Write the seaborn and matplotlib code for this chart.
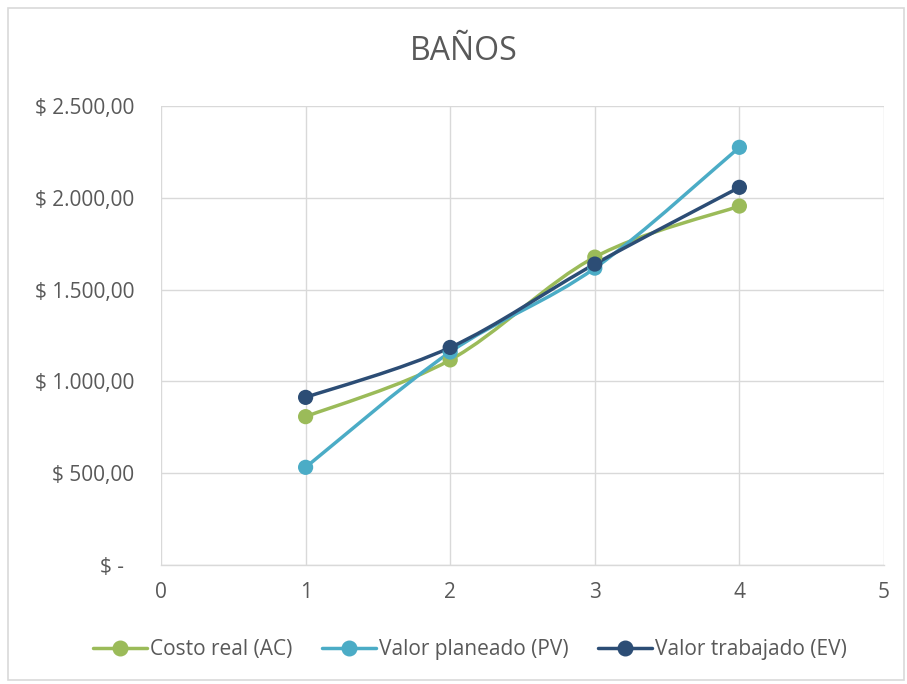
import numpy as np
import pandas as pd
import seaborn as sns
import matplotlib
matplotlib.use("Agg")
import matplotlib.pyplot as plt
from matplotlib.path import Path
from matplotlib.patches import PathPatch, Rectangle
from matplotlib.lines import Line2D
from matplotlib.ticker import FuncFormatter

# Data
periodos = [1, 2, 3, 4]
costo_real = [808, 1117, 1677, 1955]
valor_planeado = [532, 1160, 1617, 2275]
valor_trabajado = [913, 1185, 1639, 2057]

series_names = ["Costo real (AC)", "Valor planeado (PV)", "Valor trabajado (EV)"]
colors = ["#9BBB59", "#4BACC6", "#2C4D75"]

df = pd.DataFrame({
    "Periodo": periodos * 3,
    "Valor": costo_real + valor_planeado + valor_trabajado,
    "Serie": [series_names[0]] * 4 + [series_names[1]] * 4 + [series_names[2]] * 4,
})

sns.set_theme(style="white")
plt.rcParams["font.family"] = ["Open Sans", "DejaVu Sans"]
text_color = "#595959"
grid_color = "#D9D9D9"

fig = plt.figure(figsize=(9.07, 6.84), dpi=100)
ax = fig.add_axes([161 / 907, 1 - 565 / 684, (884 - 161) / 907, (565 - 106) / 684])

# Chart-area border
fig.patches.append(Rectangle((8 / 907, 4 / 684), 896 / 907, 672 / 684,
                             transform=fig.transFigure, fill=False,
                             edgecolor="#D9D9D9", linewidth=1.2))


def smooth_path(xs, ys):
    """Cardinal-spline style Bezier path through the points."""
    pts = np.column_stack([xs, ys]).astype(float)
    n = len(pts)
    verts = [pts[0]]
    codes = [Path.MOVETO]
    for i in range(n - 1):
        p0 = pts[i - 1] if i > 0 else pts[i]
        p1 = pts[i]
        p2 = pts[i + 1]
        p3 = pts[i + 2] if i + 2 < n else pts[i + 1]
        c1 = p1 + (p2 - p0) / 6.0
        c2 = p2 - (p3 - p1) / 6.0
        verts += [c1, c2, p2]
        codes += [Path.CURVE4] * 3
    return Path(verts, codes)


for name, color in zip(series_names, colors):
    sub = df[df["Serie"] == name]
    ax.add_patch(PathPatch(smooth_path(sub["Periodo"], sub["Valor"]),
                           facecolor="none", edgecolor=color, linewidth=2.5,
                           capstyle="round", joinstyle="round", zorder=3))

sns.scatterplot(data=df, x="Periodo", y="Valor", hue="Serie",
                palette=dict(zip(series_names, colors)), s=120,
                edgecolor="none", legend=False, zorder=4, ax=ax)

ax.set_xlim(0, 5)
ax.set_ylim(0, 2500)
ax.set_xticks(range(0, 6))
ax.set_yticks(range(0, 2501, 500))


def money(v, pos):
    if v == 0:
        return "$ -  "
    s = f"{v:,.2f}".replace(",", "X").replace(".", ",").replace("X", ".")
    return f"$ {s}"


ax.yaxis.set_major_formatter(FuncFormatter(money))
ax.grid(True, color=grid_color, linewidth=1.0)
ax.set_axisbelow(True)
for side in ["top", "right", "left"]:
    ax.spines[side].set_visible(False)
ax.spines["bottom"].set_color(grid_color)
ax.spines["bottom"].set_linewidth(1.0)
ax.tick_params(axis="both", length=0, labelsize=15, labelcolor=text_color)
ax.tick_params(axis="y", pad=19)
ax.tick_params(axis="x", pad=12)
ax.set_xlabel("")
ax.set_ylabel("")

fig.text(464 / 907, 1 - 52 / 684, "BAÑOS", ha="center", va="center",
         fontsize=23, color=text_color)

handles = [Line2D([0], [0], color=c, linewidth=2.5, marker="o", markersize=10.5)
           for c in colors]
fig.legend(handles, series_names, loc="center", bbox_to_anchor=(470 / 907, 1 - 650 / 684),
           ncol=3, frameon=False, fontsize=15, labelcolor=text_color,
           handlelength=2.6, handletextpad=0.15, columnspacing=1.4)

fig.savefig("out.png", dpi=100)
